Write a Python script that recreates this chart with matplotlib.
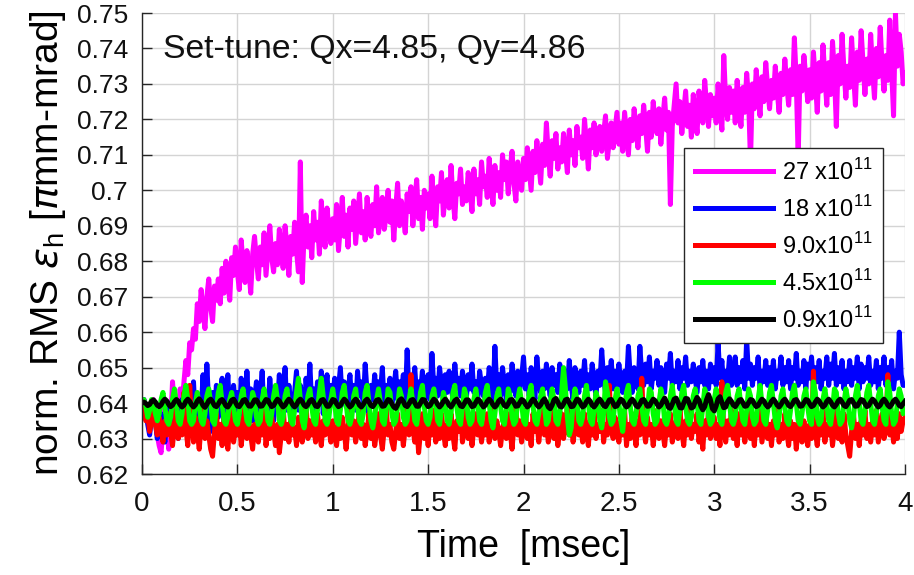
import numpy as np
import matplotlib
matplotlib.use("Agg")
import matplotlib.pyplot as plt
from matplotlib.ticker import FuncFormatter

plt.rcParams['font.family'] = ['Liberation Sans', 'DejaVu Sans']
plt.rcParams['mathtext.fontset'] = 'custom'
plt.rcParams['mathtext.rm'] = 'Liberation Sans'
plt.rcParams['mathtext.it'] = 'DejaVu Sans:italic'
plt.rcParams['mathtext.bf'] = 'Liberation Sans:bold'

# ---------------- data ----------------
labels = ['27 x10$^{11}$', '18 x10$^{11}$', '9.0x10$^{11}$', '4.5x10$^{11}$', '0.9x10$^{11}$']
colors = ['#ff00ff', '#0000ff', '#ff0000', '#00ff00', '#000000']

emit_27 = [
    0.640,0.641,0.639,0.637,0.634,0.638,0.641,0.636,0.631,0.628,
    0.626,0.633,0.640,0.635,0.627,0.634,0.646,0.638,0.633,0.637,
    0.644,0.639,0.646,0.652,0.648,0.657,0.655,0.661,0.658,0.668,
    0.663,0.672,0.666,0.661,0.670,0.675,0.667,0.663,0.673,0.669,
    0.675,0.668,0.678,0.671,0.680,0.674,0.669,0.681,0.676,0.684,
    0.677,0.672,0.686,0.679,0.674,0.683,0.678,0.671,0.682,0.687,
    0.680,0.675,0.684,0.679,0.688,0.676,0.683,0.690,0.681,0.677,
    0.685,0.679,0.689,0.683,0.678,0.690,0.684,0.676,0.687,0.682,
    0.691,0.683,0.677,0.708,0.674,0.688,0.693,0.684,0.690,0.681,
    0.694,0.686,0.691,0.682,0.697,0.688,0.684,0.695,0.689,0.685,
    0.692,0.686,0.696,0.683,0.690,0.698,0.687,0.693,0.684,0.695,
    0.689,0.697,0.685,0.692,0.699,0.688,0.694,0.686,0.698,0.691,
    0.687,0.696,0.690,0.701,0.688,0.694,0.698,0.689,0.693,0.700,
    0.691,0.697,0.686,0.695,0.702,0.690,0.697,0.693,0.688,0.699,
    0.694,0.701,0.690,0.697,0.703,0.692,0.698,0.689,0.700,0.695,
    0.699,0.692,0.704,0.696,0.690,0.701,0.697,0.705,0.693,0.699,
    0.703,0.695,0.707,0.698,0.692,0.702,0.699,0.706,0.696,0.701,
    0.697,0.705,0.700,0.694,0.706,0.699,0.703,0.696,0.708,0.701,
    0.704,0.698,0.709,0.702,0.696,0.707,0.700,0.705,0.698,0.710,
    0.703,0.708,0.699,0.706,0.711,0.702,0.697,0.708,0.704,0.700,
    0.709,0.703,0.712,0.706,0.700,0.711,0.705,0.714,0.708,0.702,
    0.713,0.707,0.719,0.710,0.704,0.714,0.709,0.716,0.706,0.712,
    0.708,0.716,0.711,0.705,0.717,0.710,0.714,0.707,0.718,0.712,
    0.715,0.709,0.720,0.713,0.706,0.717,0.712,0.719,0.710,0.715,
    0.718,0.711,0.716,0.721,0.709,0.714,0.719,0.712,0.717,0.722,
    0.713,0.719,0.711,0.722,0.716,0.710,0.720,0.714,0.723,0.717,
    0.712,0.721,0.716,0.724,0.718,0.711,0.722,0.715,0.725,0.719,
    0.716,0.723,0.713,0.720,0.726,0.717,0.722,0.696,0.718,0.724,
    0.730,0.719,0.725,0.716,0.722,0.728,0.718,0.724,0.715,0.727,
    0.721,0.716,0.728,0.722,0.719,0.731,0.724,0.718,0.727,0.721,
    0.726,0.719,0.730,0.723,0.717,0.738,0.725,0.720,0.729,0.722,
    0.728,0.719,0.731,0.724,0.718,0.729,0.722,0.733,0.726,0.708,
    0.730,0.723,0.734,0.727,0.721,0.732,0.725,0.736,0.729,0.723,
    0.731,0.726,0.735,0.728,0.722,0.733,0.727,0.737,0.730,0.724,
    0.734,0.727,0.743,0.731,0.709,0.735,0.728,0.738,0.732,0.725,
    0.734,0.726,0.739,0.731,0.722,0.736,0.728,0.741,0.732,0.724,
    0.736,0.727,0.742,0.733,0.718,0.738,0.730,0.744,0.734,0.726,
    0.735,0.729,0.743,0.733,0.724,0.739,0.731,0.745,0.736,0.727,
    0.737,0.730,0.744,0.734,0.726,0.740,0.732,0.746,0.735,0.728,
    0.738,0.731,0.748,0.734,0.721,0.750,0.735,0.744,0.739,0.730,
    0.733]

emit_18 = [
    0.640,0.641,0.638,0.634,0.631,0.636,0.639,0.635,0.630,0.633,
    0.637,0.632,0.629,0.636,0.640,0.634,0.631,0.638,0.635,0.630,
    0.636,0.641,0.633,0.644,0.637,0.631,0.639,0.646,0.635,0.633,
    0.641,0.637,0.648,0.634,0.651,0.639,0.632,0.643,0.637,0.645,
    0.636,0.642,0.647,0.634,0.640,0.648,0.637,0.633,0.645,0.639,
    0.643,0.634,0.647,0.640,0.636,0.649,0.638,0.644,0.635,0.641,
    0.646,0.637,0.642,0.649,0.636,0.643,0.638,0.647,0.640,0.635,
    0.644,0.639,0.648,0.636,0.642,0.650,0.638,0.645,0.640,0.637,
    0.643,0.649,0.638,0.645,0.641,0.636,0.647,0.640,0.651,0.639,
    0.644,0.638,0.646,0.641,0.649,0.637,0.643,0.648,0.639,0.645,
    0.641,0.647,0.638,0.644,0.650,0.640,0.646,0.639,0.643,0.648,
    0.640,0.645,0.638,0.649,0.642,0.646,0.639,0.651,0.643,0.637,
    0.645,0.641,0.648,0.640,0.646,0.643,0.650,0.639,0.645,0.642,
    0.647,0.640,0.644,0.649,0.641,0.646,0.643,0.648,0.640,0.655,
    0.642,0.647,0.644,0.650,0.641,0.646,0.643,0.649,0.640,0.645,
    0.648,0.641,0.654,0.644,0.647,0.642,0.650,0.645,0.641,0.648,
    0.643,0.649,0.645,0.641,0.651,0.644,0.647,0.642,0.649,0.645,
    0.641,0.648,0.644,0.651,0.643,0.646,0.641,0.649,0.645,0.642,
    0.647,0.643,0.650,0.645,0.641,0.656,0.644,0.648,0.642,0.650,
    0.645,0.641,0.648,0.643,0.651,0.646,0.642,0.649,0.644,0.647,
    0.653,0.644,0.648,0.642,0.650,0.645,0.641,0.653,0.646,0.643,
    0.649,0.644,0.651,0.646,0.642,0.650,0.645,0.648,0.643,0.651,
    0.646,0.642,0.649,0.644,0.652,0.645,0.641,0.650,0.646,0.643,
    0.649,0.645,0.652,0.643,0.648,0.644,0.651,0.646,0.642,0.649,
    0.645,0.655,0.647,0.643,0.650,0.646,0.652,0.644,0.649,0.645,
    0.651,0.646,0.643,0.649,0.645,0.656,0.647,0.643,0.650,0.646,
    0.644,0.656,0.648,0.645,0.651,0.646,0.653,0.644,0.649,0.647,
    0.652,0.645,0.650,0.646,0.643,0.651,0.647,0.654,0.645,0.649,
    0.646,0.652,0.644,0.650,0.647,0.653,0.645,0.649,0.646,0.651,
    0.647,0.643,0.650,0.646,0.652,0.645,0.649,0.644,0.651,0.646,
    0.650,0.645,0.657,0.647,0.652,0.644,0.649,0.646,0.653,0.645,
    0.648,0.653,0.645,0.650,0.646,0.652,0.644,0.658,0.647,0.651,
    0.645,0.650,0.647,0.653,0.644,0.649,0.646,0.652,0.645,0.650,
    0.646,0.652,0.644,0.649,0.647,0.653,0.645,0.650,0.646,0.652,
    0.644,0.650,0.647,0.654,0.645,0.649,0.646,0.652,0.644,0.651,
    0.647,0.653,0.645,0.650,0.646,0.652,0.644,0.649,0.647,0.653,
    0.645,0.651,0.647,0.654,0.645,0.650,0.646,0.652,0.644,0.649,
    0.646,0.652,0.645,0.650,0.647,0.653,0.644,0.651,0.646,0.650,
    0.647,0.653,0.645,0.649,0.646,0.652,0.644,0.650,0.647,0.653,
    0.645,0.650,0.646,0.652,0.644,0.649,0.647,0.660,0.648,0.645,
    0.645]

emit_9 = [
    0.640,0.638,0.635,0.637,0.632,0.635,0.639,0.634,0.631,0.636,
    0.633,0.629,0.635,0.631,0.637,0.632,0.628,0.634,0.639,0.630,
    0.635,0.631,0.643,0.633,0.628,0.645,0.634,0.629,0.636,0.632,
    0.627,0.634,0.640,0.630,0.635,0.631,0.627,0.625,0.632,0.637,
    0.630,0.634,0.628,0.636,0.632,0.627,0.634,0.639,0.629,0.633,
    0.631,0.636,0.628,0.633,0.639,0.630,0.635,0.631,0.627,0.634,
    0.632,0.629,0.635,0.631,0.638,0.628,0.633,0.630,0.636,0.632,
    0.628,0.634,0.626,0.631,0.639,0.630,0.634,0.629,0.635,0.631,
    0.633,0.628,0.636,0.632,0.629,0.634,0.640,0.630,0.635,0.631,
    0.634,0.629,0.637,0.632,0.628,0.635,0.631,0.639,0.633,0.629,
    0.635,0.631,0.628,0.634,0.630,0.636,0.632,0.627,0.633,0.638,
    0.631,0.635,0.629,0.633,0.638,0.630,0.634,0.628,0.632,0.637,
    0.630,0.634,0.628,0.632,0.637,0.631,0.627,0.633,0.639,0.631,
    0.634,0.629,0.627,0.632,0.637,0.630,0.634,0.628,0.633,0.638,
    0.631,0.648,0.633,0.629,0.635,0.626,0.632,0.637,0.630,0.634,
    0.628,0.635,0.631,0.638,0.629,0.634,0.630,0.637,0.632,0.628,
    0.634,0.630,0.637,0.631,0.627,0.635,0.632,0.639,0.629,0.633,
    0.638,0.630,0.634,0.628,0.633,0.637,0.631,0.635,0.629,0.634,
    0.631,0.637,0.629,0.634,0.639,0.630,0.635,0.632,0.628,0.633,
    0.635,0.630,0.637,0.632,0.627,0.634,0.639,0.631,0.635,0.629,
    0.633,0.638,0.630,0.634,0.628,0.637,0.632,0.635,0.629,0.634,
    0.639,0.631,0.635,0.629,0.633,0.638,0.630,0.634,0.628,0.632,
    0.637,0.630,0.634,0.639,0.631,0.635,0.629,0.633,0.638,0.631,
    0.634,0.629,0.637,0.632,0.628,0.635,0.631,0.638,0.630,0.634,
    0.632,0.638,0.629,0.634,0.631,0.645,0.633,0.630,0.636,0.632,
    0.629,0.635,0.631,0.638,0.628,0.634,0.630,0.637,0.632,0.628,
    0.635,0.631,0.647,0.633,0.629,0.636,0.631,0.634,0.628,0.633,
    0.638,0.630,0.635,0.632,0.628,0.634,0.631,0.637,0.629,0.633,
    0.635,0.630,0.638,0.632,0.628,0.635,0.631,0.639,0.630,0.634,
    0.632,0.637,0.629,0.634,0.627,0.635,0.631,0.638,0.630,0.633,
    0.636,0.630,0.634,0.628,0.646,0.632,0.629,0.635,0.631,0.638,
    0.630,0.634,0.628,0.637,0.631,0.635,0.629,0.633,0.638,0.630,
    0.634,0.628,0.635,0.631,0.638,0.629,0.633,0.637,0.630,0.634,
    0.628,0.635,0.631,0.638,0.629,0.634,0.630,0.637,0.632,0.628,
    0.635,0.630,0.634,0.627,0.633,0.637,0.629,0.635,0.631,0.628,
    0.634,0.630,0.649,0.632,0.628,0.635,0.631,0.638,0.629,0.634,
    0.631,0.635,0.628,0.633,0.638,0.630,0.634,0.629,0.637,0.631,
    0.628,0.625,0.632,0.637,0.630,0.634,0.628,0.635,0.631,0.638,
    0.630,0.634,0.629,0.635,0.631,0.638,0.629,0.633,0.637,0.630,
    0.633,0.648,0.631,0.635,0.629,0.634,0.630,0.637,0.632,0.635,
    0.636]

emit_4p5 = [
    0.640,0.641,0.639,0.636,0.638,0.641,0.640,0.637,0.635,0.637,
    0.641,0.643,0.639,0.635,0.634,0.636,0.641,0.644,0.640,0.635,
    0.634,0.637,0.642,0.645,0.641,0.635,0.634,0.635,0.640,0.643,
    0.639,0.635,0.634,0.637,0.642,0.644,0.640,0.635,0.634,0.638,
    0.643,0.645,0.640,0.635,0.634,0.636,0.641,0.643,0.639,0.635,
    0.634,0.637,0.642,0.644,0.639,0.635,0.634,0.638,0.643,0.641,
    0.636,0.634,0.635,0.641,0.644,0.640,0.635,0.634,0.637,0.642,
    0.645,0.641,0.635,0.634,0.636,0.642,0.644,0.639,0.635,0.634,
    0.638,0.643,0.647,0.641,0.635,0.633,0.637,0.642,0.644,0.639,
    0.635,0.634,0.638,0.643,0.647,0.642,0.635,0.634,0.636,0.641,
    0.644,0.640,0.635,0.634,0.638,0.643,0.645,0.640,0.635,0.634,
    0.636,0.642,0.644,0.639,0.635,0.634,0.637,0.643,0.645,0.640,
    0.635,0.633,0.636,0.641,0.644,0.640,0.635,0.634,0.638,0.644,
    0.643,0.637,0.634,0.635,0.639,0.644,0.642,0.636,0.634,0.635,
    0.641,0.644,0.640,0.635,0.634,0.638,0.643,0.645,0.639,0.635,
    0.634,0.636,0.642,0.644,0.640,0.635,0.634,0.638,0.643,0.641,
    0.635,0.634,0.637,0.643,0.645,0.639,0.635,0.634,0.639,0.644,
    0.642,0.636,0.634,0.635,0.641,0.644,0.640,0.635,0.634,0.638,
    0.643,0.645,0.640,0.635,0.633,0.637,0.642,0.644,0.639,0.635,
    0.634,0.638,0.644,0.642,0.636,0.634,0.635,0.641,0.644,0.640,
    0.635,0.634,0.638,0.643,0.645,0.639,0.635,0.634,0.637,0.642,
    0.644,0.639,0.634,0.635,0.640,0.644,0.641,0.635,0.634,0.637,
    0.643,0.650,0.644,0.636,0.631,0.633,0.640,0.644,0.641,0.635,
    0.634,0.636,0.642,0.645,0.640,0.635,0.634,0.638,0.643,0.641,
    0.635,0.633,0.637,0.646,0.643,0.636,0.634,0.635,0.641,0.644,
    0.640,0.635,0.632,0.638,0.643,0.645,0.639,0.635,0.634,0.637,
    0.642,0.644,0.639,0.635,0.634,0.638,0.644,0.643,0.637,0.634,
    0.635,0.640,0.644,0.641,0.635,0.634,0.636,0.642,0.645,0.640,
    0.635,0.634,0.638,0.643,0.645,0.639,0.635,0.634,0.636,0.642,
    0.644,0.640,0.635,0.634,0.639,0.644,0.642,0.636,0.634,0.635,
    0.641,0.644,0.640,0.635,0.634,0.638,0.643,0.645,0.640,0.635,
    0.634,0.636,0.642,0.644,0.639,0.635,0.634,0.638,0.644,0.642,
    0.636,0.634,0.635,0.641,0.645,0.640,0.635,0.634,0.638,0.643,
    0.645,0.640,0.635,0.633,0.636,0.642,0.644,0.639,0.635,0.634,
    0.638,0.643,0.645,0.640,0.635,0.634,0.637,0.642,0.644,0.639,
    0.635,0.634,0.646,0.643,0.636,0.634,0.635,0.641,0.644,0.640,
    0.635,0.634,0.638,0.644,0.643,0.637,0.634,0.635,0.640,0.644,
    0.641,0.635,0.633,0.636,0.642,0.645,0.640,0.635,0.634,0.638,
    0.643,0.645,0.640,0.635,0.634,0.637,0.642,0.644,0.639,0.635,
    0.634,0.646,0.643,0.637,0.634,0.635,0.640,0.644,0.642,0.637,
    0.638]

emit_0p9 = [
    0.6400,0.6403,0.6399,0.6393,0.6396,0.6405,0.6409,0.6403,0.6394,0.6390,
    0.6395,0.6405,0.6411,0.6406,0.6396,0.6390,0.6394,0.6404,0.6410,0.6405,
    0.6395,0.6389,0.6394,0.6405,0.6411,0.6405,0.6395,0.6389,0.6395,0.6406,
    0.6412,0.6404,0.6393,0.6388,0.6396,0.6407,0.6411,0.6403,0.6393,0.6390,
    0.6397,0.6407,0.6410,0.6402,0.6392,0.6389,0.6397,0.6408,0.6411,0.6402,
    0.6392,0.6390,0.6398,0.6408,0.6410,0.6401,0.6392,0.6391,0.6399,0.6409,
    0.6409,0.6400,0.6391,0.6392,0.6401,0.6410,0.6408,0.6398,0.6390,0.6393,
    0.6403,0.6411,0.6406,0.6396,0.6389,0.6394,0.6404,0.6411,0.6405,0.6395,
    0.6389,0.6395,0.6406,0.6411,0.6404,0.6394,0.6390,0.6396,0.6407,0.6410,
    0.6402,0.6392,0.6390,0.6398,0.6408,0.6410,0.6401,0.6391,0.6391,0.6400,
    0.6410,0.6408,0.6398,0.6390,0.6393,0.6403,0.6411,0.6406,0.6396,0.6389,
    0.6394,0.6405,0.6411,0.6405,0.6394,0.6389,0.6396,0.6406,0.6411,0.6403,
    0.6393,0.6390,0.6398,0.6408,0.6410,0.6401,0.6391,0.6392,0.6401,0.6410,
    0.6408,0.6398,0.6389,0.6385,0.6395,0.6408,0.6412,0.6404,0.6393,0.6390,
    0.6398,0.6408,0.6410,0.6401,0.6391,0.6391,0.6400,0.6410,0.6409,0.6399,
    0.6390,0.6393,0.6403,0.6411,0.6406,0.6396,0.6389,0.6395,0.6405,0.6411,
    0.6404,0.6394,0.6389,0.6397,0.6407,0.6411,0.6402,0.6392,0.6390,0.6399,
    0.6409,0.6409,0.6400,0.6390,0.6392,0.6402,0.6411,0.6407,0.6397,0.6389,
    0.6394,0.6405,0.6411,0.6405,0.6395,0.6389,0.6395,0.6406,0.6411,0.6403,
    0.6393,0.6390,0.6398,0.6409,0.6410,0.6401,0.6391,0.6392,0.6401,0.6410,
    0.6407,0.6397,0.6389,0.6394,0.6404,0.6411,0.6405,0.6395,0.6389,0.6395,
    0.6406,0.6412,0.6402,0.6389,0.6384,0.6394,0.6409,0.6413,0.6403,0.6391,
    0.6389,0.6398,0.6409,0.6411,0.6401,0.6390,0.6391,0.6401,0.6411,0.6409,
    0.6398,0.6389,0.6393,0.6404,0.6411,0.6405,0.6394,0.6389,0.6396,0.6406,
    0.6411,0.6403,0.6393,0.6390,0.6399,0.6409,0.6410,0.6400,0.6390,0.6392,
    0.6402,0.6411,0.6407,0.6396,0.6389,0.6394,0.6405,0.6411,0.6404,0.6393,
    0.6389,0.6397,0.6408,0.6410,0.6401,0.6391,0.6392,0.6402,0.6411,0.6407,
    0.6397,0.6389,0.6394,0.6405,0.6414,0.6403,0.6388,0.6385,0.6397,0.6411,
    0.6414,0.6402,0.6387,0.6386,0.6400,0.6413,0.6412,0.6398,0.6386,0.6389,
    0.6404,0.6416,0.6408,0.6391,0.6381,0.6390,0.6410,0.6424,0.6409,0.6385,
    0.6378,0.6392,0.6412,0.6418,0.6402,0.6387,0.6389,0.6404,0.6412,0.6405,
    0.6394,0.6390,0.6398,0.6408,0.6410,0.6401,0.6391,0.6392,0.6401,0.6410,
    0.6408,0.6398,0.6390,0.6393,0.6403,0.6411,0.6406,0.6396,0.6389,0.6394,
    0.6405,0.6411,0.6404,0.6394,0.6389,0.6396,0.6406,0.6411,0.6403,0.6393,
    0.6390,0.6398,0.6408,0.6410,0.6401,0.6391,0.6392,0.6401,0.6410,0.6408,
    0.6398,0.6390,0.6393,0.6403,0.6411,0.6406,0.6396,0.6389,0.6394,0.6405,
    0.6411,0.6404,0.6394,0.6389,0.6396,0.6406,0.6411,0.6403,0.6393,0.6390,
    0.6398,0.6408,0.6410,0.6401,0.6391,0.6392,0.6401,0.6410,0.6408,0.6398,
    0.6390,0.6393,0.6403,0.6411,0.6406,0.6396,0.6389,0.6394,0.6405,0.6411,
    0.6404,0.6394,0.6389,0.6396,0.6406,0.6411,0.6403,0.6393,0.6390,0.6398,
    0.6405]

series = [emit_27, emit_18, emit_9, emit_4p5, emit_0p9]
t_start, t_end = 0.0, 4.0
x_ticks = [0, 0.5, 1, 1.5, 2, 2.5, 3, 3.5, 4]
y_ticks = [0.62, 0.63, 0.64, 0.65, 0.66, 0.67, 0.68, 0.69, 0.70, 0.71, 0.72, 0.73, 0.74, 0.75]
annotation = 'Set-tune: Qx=4.85, Qy=4.86'

# ---------------- figure ----------------
fig = plt.figure(figsize=(9.14, 5.75), dpi=100)
ax = fig.add_axes([142/914, (575-474)/575, (905-142)/914, (474-13)/575])

for vals, lab, col in zip(series, labels, colors):
    t = np.linspace(t_start, t_end, len(vals))
    ax.plot(t, vals, color=col, lw=3.6, label=lab, solid_joinstyle='round')

ax.set_xlim(0, 4)
ax.set_ylim(0.62, 0.75)
ax.set_xticks(x_ticks)
ax.set_yticks(y_ticks)
fmt = FuncFormatter(lambda v, p: f'{round(v, 3):g}')
ax.xaxis.set_major_formatter(fmt)
ax.yaxis.set_major_formatter(fmt)

ax.grid(True, color='#d4d4d4', lw=1.0)
ax.set_axisbelow(True)
for s in ['top', 'right']:
    ax.spines[s].set_visible(False)
for s in ['left', 'bottom']:
    ax.spines[s].set_color('#262626')
    ax.spines[s].set_linewidth(1.0)
ax.tick_params(direction='in', length=7, width=1.0, colors='#262626',
               labelcolor='#111111')
ax.tick_params(axis='y', pad=10, labelsize=19)
ax.tick_params(axis='x', pad=12, labelsize=20)

ax.set_xlabel('Time  [msec]', fontsize=27, labelpad=9)
ax.set_ylabel(r'norm. RMS $\varepsilon_{\mathrm{h}}$ [$\pi$mm-mrad]', fontsize=28, labelpad=6)

ax.text(0.11, 0.7396, annotation, fontsize=24.3, va='center', ha='left', color='#111111')

leg = ax.legend(loc='upper left', bbox_to_anchor=((684-142)/763, (474-148)/461),
                borderaxespad=0, fontsize=17, frameon=True, fancybox=False,
                framealpha=1, edgecolor='#262626', handlelength=3.3,
                handletextpad=0.4, labelspacing=0.47, borderpad=0.45)
leg.get_frame().set_linewidth(1.0)

fig.savefig('out.png', dpi=100)
